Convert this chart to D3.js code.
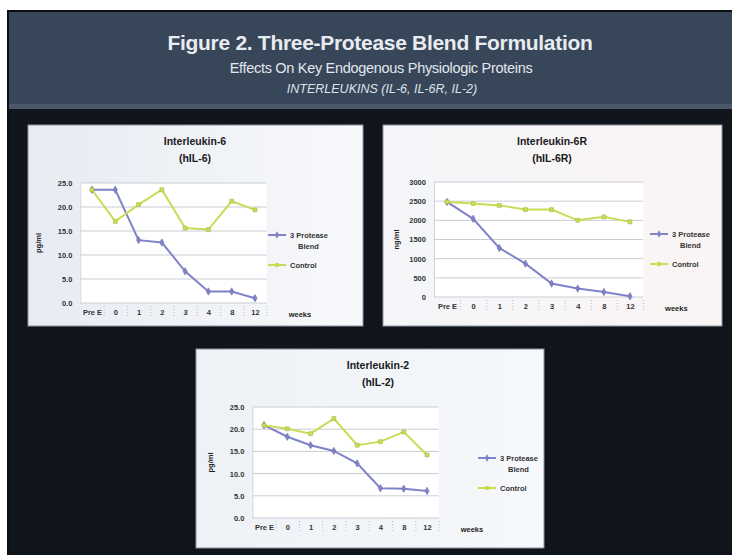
<!DOCTYPE html>
<html>
<head>
<meta charset="utf-8">
<script src="https://cdn.jsdelivr.net/npm/d3@7/dist/d3.min.js"></script>
<style>
  html, body { margin: 0; padding: 0; background: #ffffff; }
  svg { display: block; }
  text { font-family: "Liberation Sans", Arial, sans-serif; }
</style>
</head>
<body>
<svg id="fig" width="732" height="555"></svg>
<script>
// ---- data ----
const weeks = ["Pre E", "0", "1", "2", "3", "4", "8", "12"];
const seriesNames = ["3 Protease Blend", "Control"];

const il6Blend   = [23.6, 23.6, 13.1, 12.6, 6.6, 2.4, 2.4, 1.0];
const il6Control = [23.6, 17.0, 20.5, 23.6, 15.6, 15.3, 21.2, 19.4];
const il6Ticks   = [0, 5, 10, 15, 20, 25];

const il6rBlend   = [2480, 2040, 1280, 870, 350, 220, 130, 20];
const il6rControl = [2480, 2440, 2390, 2280, 2280, 2000, 2090, 1960];
const il6rTicks   = [0, 500, 1000, 1500, 2000, 2500, 3000];

const il2Blend   = [20.9, 18.3, 16.4, 15.1, 12.3, 6.7, 6.6, 6.1];
const il2Control = [20.9, 20.1, 19.0, 22.4, 16.4, 17.2, 19.4, 14.2];
const il2Ticks   = [0, 5, 10, 15, 20, 25];

const headerLines = [
  "Figure 2. Three-Protease Blend Formulation",
  "Effects On Key Endogenous Physiologic Proteins",
  "INTERLEUKINS (IL-6, IL-6R, IL-2)"
];

// ---- styling ----
const blendColor = "#7f83c8";
const controlColor = "#c9dc56";

const svg = d3.select("#fig");

// page frame
svg.append("rect").attr("x", 7).attr("y", 10).attr("width", 725).attr("height", 545).attr("fill", "#0c0f14");
svg.append("rect").attr("x", 9).attr("y", 12).attr("width", 723).attr("height", 96).attr("fill", "#38465a");
svg.append("rect").attr("x", 9).attr("y", 104).attr("width", 723).attr("height", 5).attr("fill", "#4a5869");
svg.append("rect").attr("x", 9).attr("y", 109).attr("width", 723).attr("height", 446).attr("fill", "#10141b");

// header text
svg.append("text").attr("x", 380).attr("y", 50).attr("text-anchor", "middle")
  .attr("fill", "#e8ecf0").attr("font-size", 21).attr("font-weight", "bold")
  .attr("font-family", "'Open Sans', sans-serif").attr("letter-spacing", -0.3)
  .text(headerLines[0]);
svg.append("text").attr("x", 381).attr("y", 73).attr("text-anchor", "middle")
  .attr("fill", "#e3e7ec").attr("font-size", 14.5)
  .attr("font-family", "'Open Sans', sans-serif").attr("letter-spacing", -0.3)
  .text(headerLines[1]);
svg.append("text").attr("x", 382).attr("y", 93).attr("text-anchor", "middle")
  .attr("fill", "#dde2e8").attr("font-size", 12.5).attr("font-style", "italic")
  .attr("font-family", "'Open Sans', sans-serif")
  .text(headerLines[2]);

function drawPanel(cfg) {
  const g = svg.append("g");
  // panel background
  const gradId = "grad" + cfg.id;
  const grad = svg.append("defs").append("linearGradient").attr("id", gradId)
    .attr("x1", 0).attr("x2", 1).attr("y1", 0).attr("y2", 0);
  grad.append("stop").attr("offset", 0).attr("stop-color", cfg.bgLeft);
  grad.append("stop").attr("offset", 1).attr("stop-color", cfg.bgRight);
  g.append("rect").attr("x", cfg.x).attr("y", cfg.y).attr("width", cfg.w).attr("height", cfg.h)
    .attr("fill", `url(#${gradId})`).attr("stroke", "#8a93a0").attr("stroke-width", 1);

  const x = d3.scalePoint().domain(weeks).range([cfg.px0, cfg.px1]).padding(0);
  const step = x.step();
  const y = d3.scaleLinear().domain([cfg.ticks[0], cfg.ticks[cfg.ticks.length - 1]]).range([cfg.py0, cfg.py1]);

  // plot area
  g.append("rect").attr("x", cfg.px0 - step / 2).attr("y", cfg.py1)
    .attr("width", cfg.px1 - cfg.px0 + step).attr("height", cfg.py0 - cfg.py1)
    .attr("fill", "#ffffff");

  // gridlines
  g.append("g").selectAll("line").data(cfg.ticks).join("line")
    .attr("x1", cfg.px0 - step / 2).attr("x2", cfg.px1 + step / 2)
    .attr("y1", d => y(d)).attr("y2", d => y(d))
    .attr("stroke", "#c9cdd3").attr("stroke-width", 1);

  // y axis
  const yAxis = d3.axisLeft(y).tickValues(cfg.ticks).tickFormat(cfg.fmt).tickSize(0).tickPadding(8);
  const ya = g.append("g").attr("transform", `translate(${cfg.px0 - step / 2},0)`).call(yAxis);
  ya.select(".domain").attr("stroke", "#d0d4da");
  ya.selectAll("text").attr("font-size", 7.5).attr("font-weight", "bold").attr("fill", "#333")
    .attr("font-family", "'Liberation Sans', sans-serif");

  // x axis
  const xAxis = d3.axisBottom(x).tickSize(0).tickPadding(7);
  const xa = g.append("g").attr("transform", `translate(0,${cfg.py0})`).call(xAxis);
  xa.select(".domain").remove();
  xa.selectAll("text").attr("font-size", 7.5).attr("font-weight", "bold").attr("fill", "#333");
  xa.selectAll(".tick").append("line")
    .attr("x1", step / 2).attr("x2", step / 2).attr("y1", 3).attr("y2", 14)
    .attr("stroke", "#b8bec6").attr("stroke-dasharray", "1,2");

  // axis titles
  g.append("text").attr("x", cfg.px1 + step / 2 + 22).attr("y", cfg.py0 + 14)
    .attr("font-size", 7.5).attr("font-weight", "bold").attr("fill", "#222").text("weeks");
  g.append("text").attr("transform", `translate(${cfg.yTitleX},${(cfg.py0 + cfg.py1) / 2}) rotate(-90)`)
    .attr("text-anchor", "middle").attr("font-size", 7.5).attr("font-weight", "bold").attr("fill", "#222")
    .text(cfg.unit);

  // titles
  g.append("text").attr("x", cfg.titleX).attr("y", cfg.y + 20).attr("text-anchor", "middle")
    .attr("font-size", 10.5).attr("font-weight", "bold").attr("fill", "#1a1a1a").text(cfg.title);
  g.append("text").attr("x", cfg.titleX).attr("y", cfg.y + 37).attr("text-anchor", "middle")
    .attr("font-size", 10.5).attr("font-weight", "bold").attr("fill", "#1a1a1a").text(cfg.subtitle);

  // series
  const line = d3.line().x((d, i) => x(weeks[i])).y(d => y(d));
  const series = [
    { vals: cfg.blend, color: blendColor, marker: d3.symbolDiamond },
    { vals: cfg.control, color: controlColor, marker: d3.symbolSquare }
  ];
  series.forEach(s => {
    g.append("path").datum(s.vals).attr("d", line)
      .attr("fill", "none").attr("stroke", s.color).attr("stroke-width", 2);
    g.append("g").selectAll("path").data(s.vals).join("path")
      .attr("transform", (d, i) => `translate(${x(weeks[i])},${y(d)})`)
      .attr("d", d3.symbol().type(s.marker).size(16))
      .attr("fill", s.color).attr("stroke", d3.color(s.color).darker(0.6)).attr("stroke-width", 0.5);
  });

  // legend
  const lg = g.append("g").attr("transform", `translate(${cfg.legX},${cfg.legY})`);
  series.forEach((s, i) => {
    const yy = i * 30;
    lg.append("line").attr("x1", 0).attr("x2", 18).attr("y1", yy).attr("y2", yy)
      .attr("stroke", s.color).attr("stroke-width", 2);
    lg.append("path").attr("transform", `translate(9,${yy})`)
      .attr("d", d3.symbol().type(s.marker).size(16)).attr("fill", s.color);
    const t = lg.append("text").attr("x", 22).attr("y", yy + 3)
      .attr("font-size", 7.5).attr("font-weight", "bold").attr("fill", "#333");
    if (i === 0) {
      const parts = seriesNames[0].split(" ");
      t.append("tspan").attr("x", 22).text(parts[0] + " " + parts[1]);
      t.append("tspan").attr("x", 30).attr("dy", 11).text(parts[2]);
    } else {
      t.text(seriesNames[1]);
    }
  });
}

drawPanel({
  id: 1, x: 28, y: 125, w: 335, h: 201, bgLeft: "#e7ebf2", bgRight: "#f8f9fb",
  px0: 92, px1: 255, py0: 303, py1: 183, ticks: il6Ticks, fmt: d3.format(".1f"),
  blend: il6Blend, control: il6Control, unit: "pg/ml", yTitleX: 41,
  title: "Interleukin-6", subtitle: "(hIL-6)", titleX: 195, legX: 268, legY: 235
});

drawPanel({
  id: 2, x: 383, y: 125, w: 339, h: 201, bgLeft: "#f4f6f9", bgRight: "#fbf4f4",
  px0: 447, px1: 630, py0: 297, py1: 182, ticks: il6rTicks, fmt: d3.format("d"),
  blend: il6rBlend, control: il6rControl, unit: "ng/ml", yTitleX: 399,
  title: "Interleukin-6R", subtitle: "(hIL-6R)", titleX: 552, legX: 650, legY: 234
});

drawPanel({
  id: 3, x: 196, y: 349, w: 348, h: 199, bgLeft: "#eef1f6", bgRight: "#f6f8fb",
  px0: 264, px1: 427, py0: 518, py1: 407, ticks: il2Ticks, fmt: d3.format(".1f"),
  blend: il2Blend, control: il2Control, unit: "pg/ml", yTitleX: 213,
  title: "Interleukin-2", subtitle: "(hIL-2)", titleX: 378, legX: 478, legY: 458
});
</script>
</body>
</html>
